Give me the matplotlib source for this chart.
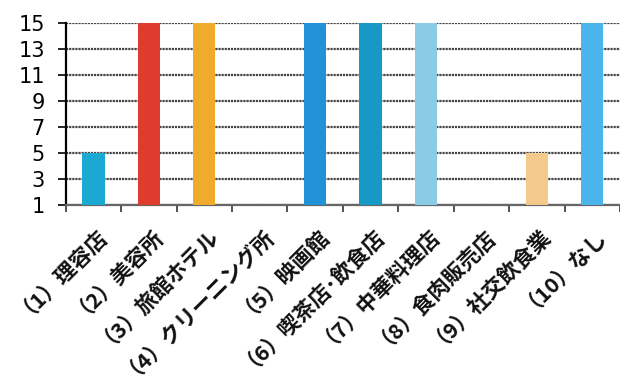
import matplotlib

matplotlib.use("Agg")
import matplotlib.pyplot as plt
from matplotlib.ticker import FixedLocator

plt.rcParams["font.family"] = ["Noto Sans CJK JP", "DejaVu Sans"]

categories = ["（1）理容店", "（2）美容所", "（3）旅館ホテル", "（4）クリーニング所",
              "（5）映画館", "（6）喫茶店･飲食店", "（7）中華料理店", "（8）食肉販売店",
              "（9）社交飲食業", "（10）なし"]
values = [5, 15, 15, 0, 15, 15, 15, 0, 5, 15]
colors = ["#1ba8d2", "#e03c2e", "#f0aa2c", "#1ba8d2", "#2192d8", "#1699c4",
          "#8acbe6", "#e03c2e", "#f3ca8c", "#4ab4ec"]
yticks = [1, 3, 5, 7, 9, 11, 13, 15]

fig = plt.figure(figsize=(6.2, 3.81), dpi=100)
ax = fig.add_axes([0.106, 0.462, 0.894, 0.478])

x = list(range(len(categories)))
ax.bar(x, values, width=0.4, color=colors, zorder=3)

ax.set_xlim(-0.5, len(categories) - 0.5)
ax.set_ylim(1, 15)
ax.set_yticks(yticks)
ax.set_yticklabels([str(t) for t in yticks], family="DejaVu Sans", fontsize=15)
ax.yaxis.grid(True, color="#444444", linewidth=1.6, linestyle=(0, (1, 0.4)), zorder=0)

ax.set_xticks(x)
ax.set_xticklabels(categories, rotation=45, ha="right", rotation_mode="anchor",
                   fontsize=15.5, fontweight="bold", color="#111111")
ax.xaxis.set_minor_locator(FixedLocator([i - 0.5 for i in range(len(categories) + 1)]))
ax.tick_params(axis="x", which="major", length=0, pad=9)
ax.tick_params(axis="x", which="minor", length=5, width=1.2, color="#333333")
ax.tick_params(axis="y", length=6, width=1.2, pad=9)

for side in ["top", "right"]:
    ax.spines[side].set_visible(False)
ax.spines["left"].set_linewidth(1.6)
ax.spines["bottom"].set_color("#666666")
ax.spines["bottom"].set_linewidth(1.6)

fig.savefig("out.png", dpi=100)
